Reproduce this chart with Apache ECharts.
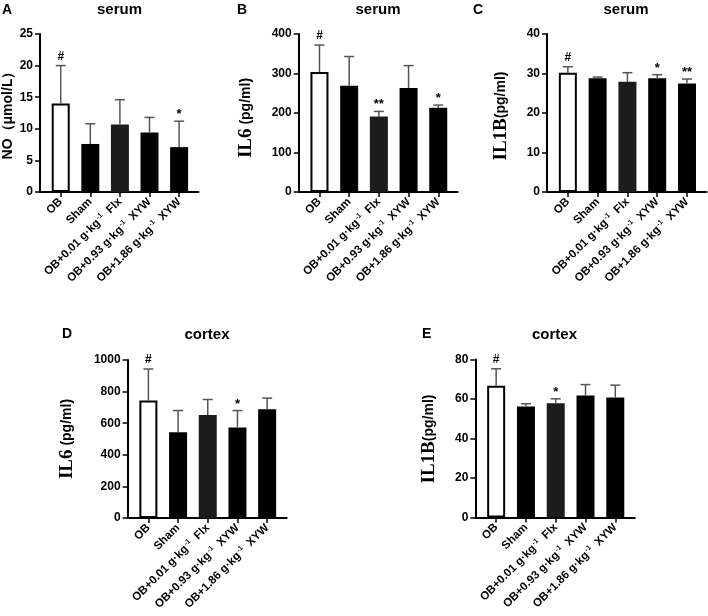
<!DOCTYPE html>
<html>
<head>
<meta charset="utf-8">
<script src="https://cdn.jsdelivr.net/npm/echarts@6/dist/echarts.min.js"></script>
<style>
html,body{margin:0;padding:0;background:#fff;}
#chart{width:708px;height:616px;}
</style>
</head>
<body>
<div id="chart"></div>
<script>
// ---- Data ----
const categories = ['OB', 'Sham', 'OB+0.01 g·kg⁻¹ Flx', 'OB+0.93 g·kg⁻¹ XYW', 'OB+1.86 g·kg⁻¹ XYW'];

// A: serum NO (μmol/L)
const noSerumMean = [14.0, 7.6, 10.7, 9.4, 7.1];
const noSerumUpper = [20.0, 10.8, 14.6, 11.8, 11.2];
const noSerumSig = ['#', '', '', '', '*'];
const noSerumTicks = { max: 25, interval: 5 };

// B: serum IL6 (pg/ml)
const il6SerumMean = [304, 269, 191, 263, 213];
const il6SerumUpper = [372, 343, 204, 320, 220];
const il6SerumSig = ['#', '', '**', '', '*'];
const il6SerumTicks = { max: 400, interval: 100 };

// C: serum IL1B (pg/ml)
const il1bSerumMean = [30.2, 28.8, 27.9, 28.8, 27.5];
const il1bSerumUpper = [31.7, 29.1, 30.2, 29.7, 28.6];
const il1bSerumSig = ['#', '', '', '*', '**'];
const il1bSerumTicks = { max: 40, interval: 10 };

// D: cortex IL6 (pg/ml)
const il6CortexMean = [744, 542, 652, 572, 689];
const il6CortexUpper = [943, 680, 750, 680, 759];
const il6CortexSig = ['#', '', '', '*', ''];
const il6CortexTicks = { max: 1000, interval: 200 };

// E: cortex IL1B (pg/ml)
const il1bCortexMean = [66.7, 56.2, 57.9, 61.8, 60.8];
const il1bCortexUpper = [75.3, 57.6, 60.1, 67.3, 67.0];
const il1bCortexSig = ['#', '', '*', '', ''];
const il1bCortexTicks = { max: 80, interval: 20 };

// ---- Layout / style ----
const SANS = '"Liberation Sans", Arial, Helvetica, sans-serif';
const SERIF = '"Liberation Serif", "Times New Roman", serif';
const panels = [
  { letter: 'A', title: 'serum', mean: noSerumMean, upper: noSerumUpper, sig: noSerumSig, ticks: noSerumTicks,
    grid: { left: 40, top: 34, width: 158.5, height: 158 }, titlePos: [119.5, 10], letterPos: [2, 3],
    yname: { pos: [8, 112], rich: false, text: 'NO（μmol/L）' } },
  { letter: 'B', title: 'serum', mean: il6SerumMean, upper: il6SerumUpper, sig: il6SerumSig, ticks: il6SerumTicks,
    grid: { left: 298.7, top: 34, width: 159, height: 158 }, titlePos: [378, 10], letterPos: [237, 3],
    yname: { pos: [246, 118], rich: true, a: 'IL6', b: ' (pg/ml)' } },
  { letter: 'C', title: 'serum', mean: il1bSerumMean, upper: il1bSerumUpper, sig: il1bSerumSig, ticks: il1bSerumTicks,
    grid: { left: 547, top: 34, width: 159.5, height: 158 }, titlePos: [626, 10], letterPos: [473, 3],
    yname: { pos: [501, 116], rich: true, a: 'IL1B', b: '(pg/ml)' } },
  { letter: 'D', title: 'cortex', mean: il6CortexMean, upper: il6CortexUpper, sig: il6CortexSig, ticks: il6CortexTicks,
    grid: { left: 127.6, top: 360, width: 159, height: 158 }, titlePos: [207, 335], letterPos: [62, 327],
    yname: { pos: [67, 439], rich: true, a: 'IL6', b: ' (pg/ml)' } },
  { letter: 'E', title: 'cortex', mean: il1bCortexMean, upper: il1bCortexUpper, sig: il1bCortexSig, ticks: il1bCortexTicks,
    grid: { left: 475.3, top: 359.5, width: 159.5, height: 158 }, titlePos: [554.5, 335], letterPos: [422, 327],
    yname: { pos: [429, 439], rich: true, a: 'IL1B', b: '(pg/ml)' } }
];

const barColors = ['#ffffff', '#000000', '#1c1c1c', '#000000', '#000000'];
const xMin = -0.70, xMax = 4.655;
const idx = categories.map((c, i) => i);

function catLabel(v) {
  const s = categories[Math.round(v)];
  if (s === undefined) return '';
  const parts = s.split('⁻¹');
  if (parts.length === 1) return '{n|' + s + '}';
  return '{n|' + parts[0] + '}{s|-1}{n| ' + parts[1] + '}';
}

const grids = [], xAxes = [], yAxes = [], series = [], graphics = [];
panels.forEach((p, k) => {
  grids.push(p.grid);
  xAxes.push({
    type: 'value', gridIndex: k, min: xMin, max: xMax,
    splitLine: { show: false },
    axisLine: { show: true, onZero: false, lineStyle: { color: '#000', width: 2 } },
    axisTick: { show: true, customValues: idx, length: 5, lineStyle: { color: '#000', width: 1.5 } },
    axisLabel: {
      show: true, customValues: idx, rotate: 45, margin: 8,
      formatter: catLabel,
      rich: {
        n: { fontFamily: SANS, fontWeight: 'bold', fontSize: 11.5, color: '#000' },
        s: { fontFamily: SANS, fontWeight: 'bold', fontSize: 7, color: '#000', verticalAlign: 'top', padding: [0, 0, 6, 1] }
      }
    }
  });
  yAxes.push({
    type: 'value', gridIndex: k, min: 0, max: p.ticks.max, interval: p.ticks.interval,
    splitLine: { show: false },
    axisLine: { show: true, onZero: false, lineStyle: { color: '#000', width: 2 } },
    axisTick: { show: true, inside: false, length: 5, lineStyle: { color: '#000', width: 1.5 } },
    axisLabel: { fontFamily: SANS, fontWeight: 'bold', fontSize: 12, color: '#000', margin: 7,
      formatter: v => String(v) }
  });
  series.push({
    type: 'bar', xAxisIndex: k, yAxisIndex: k, barWidth: 18, z: 2,
    data: p.mean.map((v, i) => ({
      value: [i, v],
      itemStyle: i === 0
        ? { color: '#fff', borderColor: '#000', borderWidth: 2 }
        : { color: barColors[i], borderColor: barColors[i], borderWidth: 0 }
    })),
    silent: true
  });
  series.push({
    type: 'custom', xAxisIndex: k, yAxisIndex: k, z: 3, silent: true,
    data: p.mean.map((v, i) => [i, v, p.upper[i]]),
    renderItem: function (params, api) {
      const i = params.dataIndex;
      const p0 = api.coord([api.value(0), api.value(1)]);
      const p1 = api.coord([api.value(0), api.value(2)]);
      const cw = 5;
      const children = [
        { type: 'line', shape: { x1: p0[0], y1: p0[1], x2: p1[0], y2: p1[1] }, style: { stroke: '#555', lineWidth: 1.5 } },
        { type: 'line', shape: { x1: p1[0] - cw, y1: p1[1], x2: p1[0] + cw, y2: p1[1] }, style: { stroke: '#555', lineWidth: 1.5 } }
      ];
      const sg = p.sig[i];
      if (sg) {
        children.push({
          type: 'text',
          style: {
            text: sg, x: p1[0], y: p1[1] - (sg === '#' ? 3 : 0),
            align: 'center', verticalAlign: 'bottom',
            font: 'bold ' + (sg === '#' ? 12 : 13) + 'px ' + SANS, fill: '#000'
          }
        });
      }
      return { type: 'group', children: children };
    }
  });
  graphics.push({
    type: 'text', x: p.titlePos[0], y: p.titlePos[1],
    style: { text: p.title, font: 'bold 15px ' + SANS, fill: '#000', align: 'center', verticalAlign: 'middle' }
  });
  graphics.push({
    type: 'text', x: p.letterPos[0], y: p.letterPos[1],
    style: { text: p.letter, font: 'bold 14px ' + SANS, fill: '#000', align: 'left', verticalAlign: 'top' }
  });
  if (p.yname.rich) {
    graphics.push({
      type: 'text', x: p.yname.pos[0], y: p.yname.pos[1], rotation: Math.PI / 2,
      style: {
        text: '{a|' + p.yname.a + '}{b|' + p.yname.b + '}',
        align: 'center', verticalAlign: 'middle',
        rich: {
          a: { fontFamily: SERIF, fontWeight: 'bold', fontSize: 19, fill: '#000', color: '#000' },
          b: { fontFamily: SANS, fontWeight: 'bold', fontSize: 14, fill: '#000', color: '#000' }
        }
      }
    });
  } else {
    graphics.push({
      type: 'text', x: p.yname.pos[0], y: p.yname.pos[1], rotation: Math.PI / 2,
      style: { text: p.yname.text, font: 'bold 14px ' + SANS, fill: '#000', align: 'center', verticalAlign: 'middle' }
    });
  }
});

const chart = echarts.init(document.getElementById('chart'), null, { renderer: 'canvas' });
chart.setOption({
  backgroundColor: '#ffffff',
  animation: false,
  grid: grids,
  xAxis: xAxes,
  yAxis: yAxes,
  series: series,
  graphic: graphics
});
</script>
</body>
</html>
